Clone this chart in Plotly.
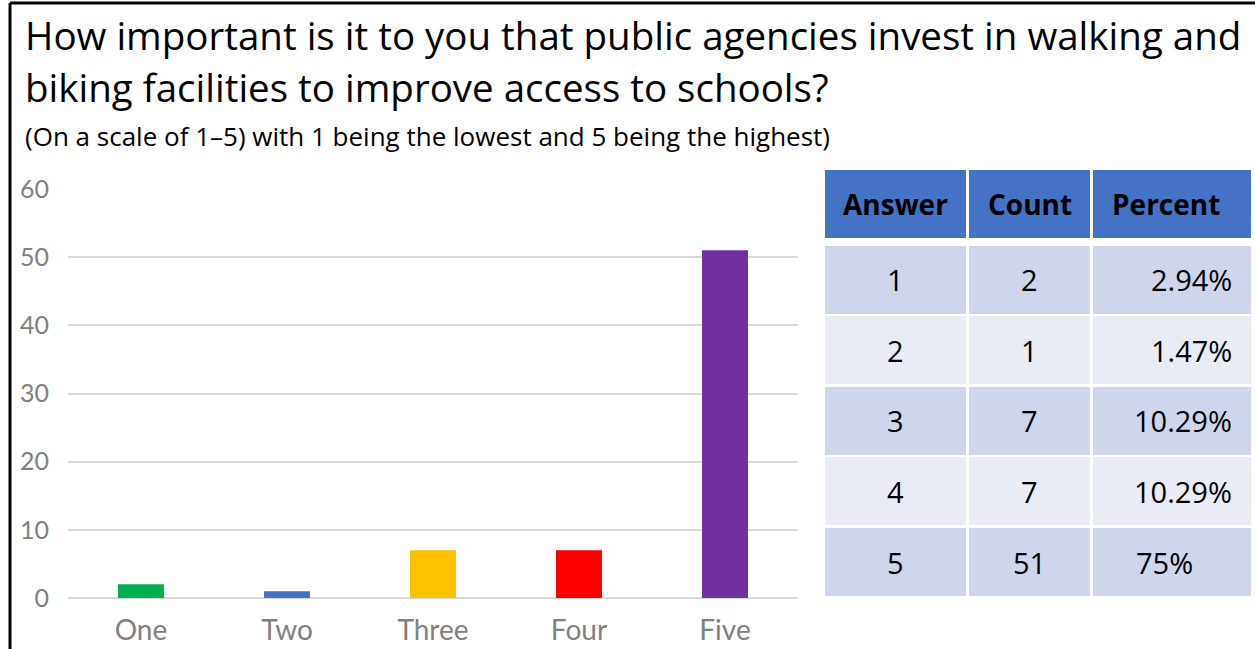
import plotly.graph_objects as go

# Survey responses
categories = ["One", "Two", "Three", "Four", "Five"]
counts = [2, 1, 7, 7, 51]
bar_colors = ["#00B050", "#4472C4", "#FFC000", "#FF0000", "#7030A0"]

# Summary table
table_header = ["Answer", "Count", "Percent"]
answers = ["1", "2", "3", "4", "5"]
percents = ["2.94%", "1.47%", "10.29%", "10.29%", "75%"]

title_lines = [
    "How important is it to you that public agencies invest in walking and",
    "biking facilities to improve access to schools?",
]
subtitle = "(On a scale of 1\u20135) with 1 being the lowest and 5 being the highest)"

W, H = 1255, 649
TEXT_FONT = "Open Sans"
AXIS_FONT = "Lato"


def px(x):
    return x / W


def py(y):
    return 1 - y / H


fig = go.Figure()
fig.add_trace(go.Bar(
    x=categories, y=counts, marker=dict(color=bar_colors, line=dict(width=0)),
    width=0.315, hoverinfo="x+y",
))

# chart area
fig.update_layout(
    width=W, height=H,
    margin=dict(l=0, r=0, t=0, b=0, pad=0),
    paper_bgcolor="white", plot_bgcolor="white",
    showlegend=False,
    font=dict(family=TEXT_FONT),
    xaxis=dict(domain=[px(68), px(798)], showgrid=False, showline=False,
               zeroline=False, ticks="", automargin=False,
               tickfont=dict(size=28, color="#808080", family=AXIS_FONT),
               ticklabelstandoff=13),
    yaxis=dict(domain=[py(598), py(189)], range=[0, 60], dtick=10,
               showgrid=True, gridcolor="#D9D9D9", gridwidth=1.5,
               zeroline=True, zerolinecolor="#D9D9D9", zerolinewidth=1.5,
               showline=False, ticks="", automargin=False,
               tickfont=dict(size=25, color="#808080", family=AXIS_FONT),
               ticklabelstandoff=18),
)

shapes = []
annotations = []

# frame lines along top and left edges
shapes.append(dict(type="line", xref="paper", yref="paper",
                   x0=px(10), x1=1, y0=py(3), y1=py(3),
                   line=dict(color="black", width=3)))
shapes.append(dict(type="line", xref="paper", yref="paper",
                   x0=px(10), x1=px(10), y0=py(3), y1=0,
                   line=dict(color="black", width=3)))

# titles
for i, line in enumerate(title_lines):
    annotations.append(dict(text=line, xref="paper", yref="paper",
                            x=px(23), y=py(35.5 + 51 * i), xanchor="left",
                            yanchor="middle", showarrow=False,
                            font=dict(size=38.5, color="black",
                                      family=TEXT_FONT)))
annotations.append(dict(text=subtitle, xref="paper", yref="paper",
                        x=px(23), y=py(136), xanchor="left", yanchor="middle",
                        showarrow=False,
                        font=dict(size=26, color="black", family=TEXT_FONT)))

# table
col_edges = [(825, 966), (969, 1090), (1093, 1251)]
header_text_x = [895.5, 1029.5, 1166]
header_rows = (170, 238)
body_tops = [246, 316, 387, 457, 528]
row_h = 68
body_fill = ["#CFD5EA", "#E9EBF5"]

for (x0, x1), hx, label in zip(col_edges, header_text_x, table_header):
    shapes.append(dict(type="rect", xref="paper", yref="paper", layer="below",
                       x0=px(x0), x1=px(x1), y0=py(header_rows[1]),
                       y1=py(header_rows[0]), fillcolor="#4472C4",
                       line=dict(width=0)))
    annotations.append(dict(text="<b>" + label + "</b>", xref="paper",
                            yref="paper", x=px(hx),
                            y=py((header_rows[0] + header_rows[1]) / 2),
                            xanchor="center", yanchor="middle",
                            showarrow=False,
                            font=dict(size=28, color="black",
                                      family=TEXT_FONT)))

cell_font = dict(size=29, color="black", family=TEXT_FONT)
for r, (a, c, p) in enumerate(zip(answers, counts, percents)):
    top = body_tops[r]
    ymid = py(top + row_h / 2)
    for (x0, x1) in col_edges:
        shapes.append(dict(type="rect", xref="paper", yref="paper",
                           layer="below", x0=px(x0), x1=px(x1),
                           y0=py(top + row_h), y1=py(top),
                           fillcolor=body_fill[r % 2], line=dict(width=0)))
    annotations.append(dict(text=a, xref="paper", yref="paper",
                            x=px(895.5), y=ymid, xanchor="center",
                            yanchor="middle", showarrow=False, font=cell_font))
    annotations.append(dict(text=str(c), xref="paper", yref="paper",
                            x=px(1029.5), y=ymid, xanchor="center",
                            yanchor="middle", showarrow=False, font=cell_font))
    if p == "75%":
        annotations.append(dict(text=p, xref="paper", yref="paper",
                                x=px(1134), y=ymid, xanchor="left",
                                yanchor="middle", showarrow=False,
                                font=cell_font))
    else:
        annotations.append(dict(text=p, xref="paper", yref="paper",
                                x=px(1234), y=ymid, xanchor="right",
                                yanchor="middle", showarrow=False,
                                font=cell_font))

fig.update_layout(shapes=shapes, annotations=annotations)
fig.write_html(
    "out.html",
    post_script="document.body.style.margin='0';"
                "document.body.style.overflow='hidden';",
)
